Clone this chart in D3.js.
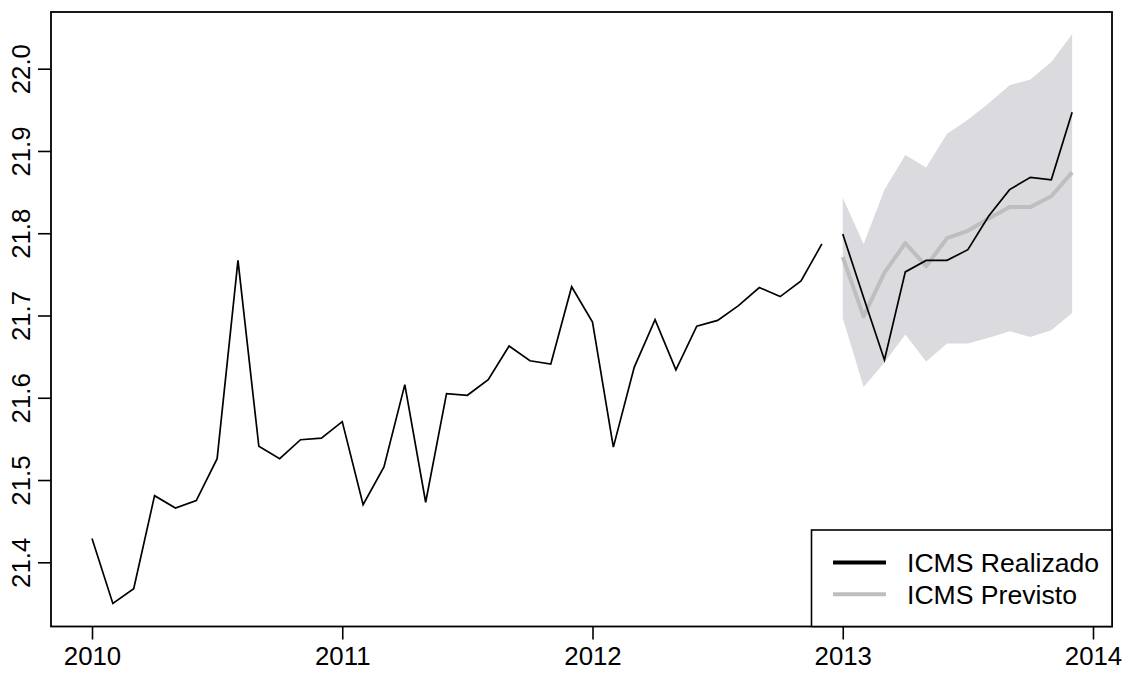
<!DOCTYPE html>
<html>
<head>
<meta charset="utf-8">
<script src="https://cdn.jsdelivr.net/npm/d3@7"></script>
<style>
  html, body { margin: 0; padding: 0; background: #fff; }
  svg { display: block; }
  text { font-family: "Liberation Sans", Arial, Helvetica, sans-serif; fill: #000; }
</style>
</head>
<body>
<svg id="chart" width="1129" height="673"></svg>
<script>
// Monthly ICMS series (log scale), Jan 2010 – Dec 2012
const historico = [
  21.429, 21.350, 21.368, 21.481, 21.466, 21.475, 21.526, 21.767, 21.541, 21.526, 21.549, 21.551,
  21.571, 21.470, 21.516, 21.616, 21.473, 21.605, 21.603, 21.622, 21.663, 21.645, 21.641, 21.735,
  21.692, 21.540, 21.637, 21.695, 21.634, 21.687, 21.694, 21.712, 21.734, 21.723, 21.742, 21.787
];
// Realised values, Jan – Dec 2013
const realizado = [21.799, 21.722, 21.646, 21.753, 21.767, 21.767, 21.780, 21.821, 21.853, 21.868, 21.865, 21.947];
// Point forecast and interval bounds, Jan – Dec 2013
const previsto = [21.771, 21.699, 21.752, 21.788, 21.760, 21.794, 21.803, 21.818, 21.832, 21.832, 21.845, 21.874];
const limiteSup = [21.843, 21.787, 21.853, 21.895, 21.880, 21.921, 21.938, 21.958, 21.980, 21.987, 22.008, 22.042];
const limiteInf = [21.697, 21.613, 21.643, 21.677, 21.644, 21.666, 21.666, 21.673, 21.681, 21.674, 21.682, 21.703];

const xTicks = [2010, 2011, 2012, 2013, 2014];
const yTicks = [21.4, 21.5, 21.6, 21.7, 21.8, 21.9, 22.0];
const legendLabels = ["ICMS Realizado", "ICMS Previsto"];

const inicioHist = 2010, inicioPrev = 2013;

const svg = d3.select("#chart");
const box = { left: 51, right: 1112, top: 12, bottom: 626.5 };

const x = d3.scaleLinear().domain([2010, 2014]).range([92, 1093]);
const y = d3.scaleLinear().domain([21.4, 22.0]).range([562.3, 68.7]);

const t = (start, i) => start + i / 12;

// Forecast interval band
const area = d3.area()
  .x((d, i) => x(t(inicioPrev, i)))
  .y0((d, i) => y(limiteInf[i]))
  .y1((d, i) => y(limiteSup[i]));
svg.append("path")
  .datum(limiteSup)
  .attr("d", area)
  .attr("fill", "#dadadf")
  .attr("stroke", "none");

const lineFrom = start => d3.line()
  .x((d, i) => x(t(start, i)))
  .y(d => y(d));

// Forecast line
svg.append("path")
  .datum(previsto)
  .attr("d", lineFrom(inicioPrev))
  .attr("fill", "none")
  .attr("stroke", "#bebebe")
  .attr("stroke-width", 4)
  .attr("stroke-linejoin", "round");

// Observed lines
[[historico, inicioHist], [realizado, inicioPrev]].forEach(([vals, start]) => {
  svg.append("path")
    .datum(vals)
    .attr("d", lineFrom(start))
    .attr("fill", "none")
    .attr("stroke", "#000")
    .attr("stroke-width", 1.7)
    .attr("stroke-linejoin", "miter");
});

// Axes
const xAxis = d3.axisBottom(x).tickValues(xTicks).tickFormat(d3.format("d")).tickSize(13).tickPadding(7);
const gx = svg.append("g").attr("transform", `translate(0,${box.bottom})`).call(xAxis);
gx.select(".domain").remove();
gx.selectAll(".tick line").attr("stroke", "#000").attr("stroke-width", 1.6);
gx.selectAll(".tick text").attr("font-size", 25.8).attr("dy", "0.71em")
  .attr("font-family", "Liberation Sans, Arial, sans-serif");

const yAxis = d3.axisLeft(y).tickValues(yTicks).tickFormat(d3.format(".1f")).tickSize(13).tickPadding(0);
const gy = svg.append("g").attr("transform", `translate(${box.left},0)`).call(yAxis);
gy.select(".domain").remove();
gy.selectAll(".tick line").attr("stroke", "#000").attr("stroke-width", 1.6);
gy.selectAll(".tick text")
  .attr("font-size", 25.8)
  .attr("font-family", "Liberation Sans, Arial, sans-serif")
  .attr("x", null).attr("dy", null)
  .attr("text-anchor", "middle")
  .attr("transform", "translate(-21,0) rotate(-90)");

// Plot frame
svg.append("rect")
  .attr("x", box.left).attr("y", box.top)
  .attr("width", box.right - box.left).attr("height", box.bottom - box.top)
  .attr("fill", "none").attr("stroke", "#000").attr("stroke-width", 1.8);

// Legend
const lg = svg.append("g");
lg.append("rect")
  .attr("x", 811.5).attr("y", 530)
  .attr("width", box.right - 811.5).attr("height", box.bottom - 530)
  .attr("fill", "#fff").attr("stroke", "#000").attr("stroke-width", 1.6);
const legendStyles = [{ c: "#000", w: 4 }, { c: "#bebebe", w: 4 }];
legendLabels.forEach((lab, i) => {
  const yy = 562.5 + i * 31.7;
  lg.append("line")
    .attr("x1", 833).attr("x2", 886).attr("y1", yy).attr("y2", yy)
    .attr("stroke", legendStyles[i].c).attr("stroke-width", legendStyles[i].w);
  lg.append("text")
    .attr("x", 907).attr("y", yy + 9.4)
    .attr("font-size", 26.6)
    .text(lab);
});
</script>
</body>
</html>
